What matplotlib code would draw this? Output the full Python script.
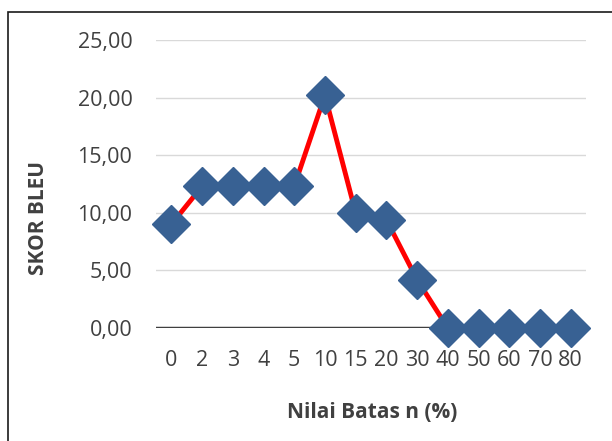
import matplotlib.pyplot as plt
from matplotlib.patches import Rectangle

kategori = ['0', '2', '3', '4', '5', '10', '15', '20', '30', '40', '50', '60', '70', '80']
skor_bleu = [9.0, 12.3, 12.3, 12.3, 12.3, 20.2, 10.0, 9.4, 4.2, 0.0, 0.0, 0.0, 0.0, 0.0]
yticks = [0, 5, 10, 15, 20, 25]

plt.rcParams['font.family'] = ['Open Sans', 'DejaVu Sans']

fig = plt.figure(figsize=(6.12, 4.41), dpi=100)
# bingkai luar (hanya kiri dan atas terlihat)
fig.patches.append(Rectangle((8 / 612, -0.1), 1.2, 1 - 12 / 441 + 0.1,
                             transform=fig.transFigure, fill=False,
                             edgecolor='#1a1a1a', linewidth=1.2))

ax = fig.add_axes([156 / 612, 1 - 328 / 441, 430 / 612, 288 / 441])
x = range(len(kategori))

for v in yticks[1:]:
    ax.axhline(v, color='#d9d9d9', linewidth=1, zorder=1)
ax.axhline(0, color='#404040', linewidth=2.5, zorder=2)

ax.plot(x, skor_bleu, color='#ff0000', linewidth=3.5, zorder=3,
        marker='D', markersize=19, markerfacecolor='#386193',
        markeredgecolor='#386193', clip_on=False)

ax.set_xlim(-0.5, len(kategori) - 0.5)
ax.set_ylim(0, 25)
ax.set_xticks(list(x))
ax.set_xticklabels(kategori)
ax.set_yticks(yticks)
ax.set_yticklabels(['%d,00' % v for v in yticks])
ax.tick_params(length=0, labelsize=15.5, colors='#404040')
ax.tick_params(axis='x', pad=16)
ax.tick_params(axis='y', pad=17)
for s in ax.spines.values():
    s.set_visible(False)

fig.text(38 / 612, 1 - 218 / 441, 'SKOR BLEU', rotation=90, ha='center', va='center',
         fontsize=15, fontweight='bold', color='#404040')
fig.text(372 / 612, 1 - 413 / 441, 'Nilai Batas n (%)', ha='center', va='center',
         fontsize=15, fontweight='bold', color='#404040')

fig.savefig('out.png', dpi=100)
